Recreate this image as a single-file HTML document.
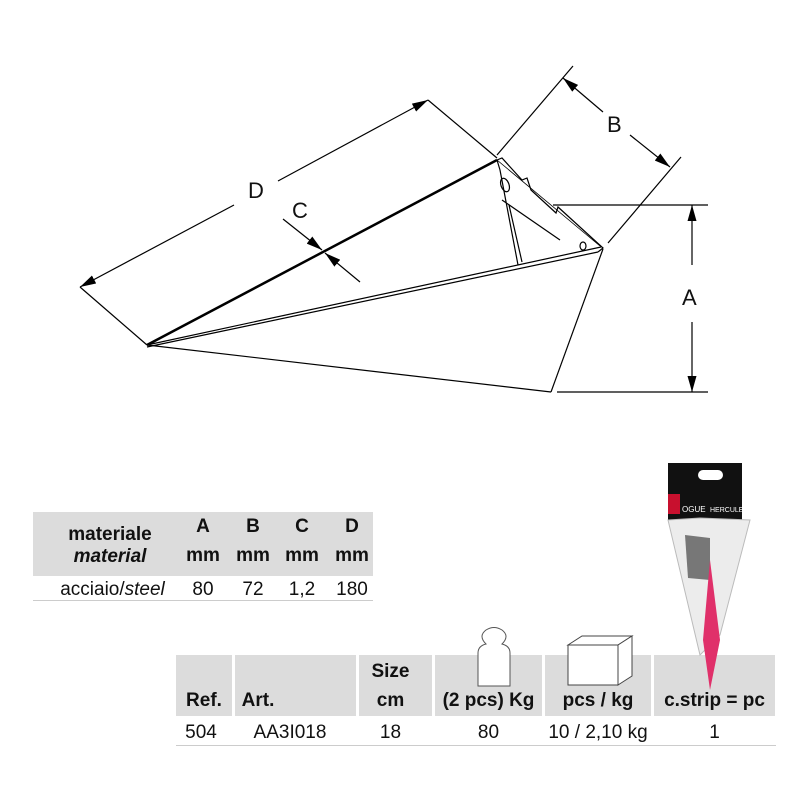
<!DOCTYPE html>
<html><head><meta charset="utf-8"><style>
body{margin:0;width:800px;height:800px;background:#fff;position:relative;overflow:hidden;font-family:"Liberation Sans",Arial,sans-serif;}
.c{position:absolute;}
.g{background:#dcdcdc;}
.t{position:absolute;font-size:18px;color:#111;text-align:center;}
.b{font-weight:bold;}
</style></head><body>
<svg class="c" style="left:0;top:0" width="800" height="450">
<defs><marker id="ar" markerWidth="16" markerHeight="9" refX="16" refY="4.5" orient="auto" markerUnits="userSpaceOnUse"><path d="M0,0 L16,4.5 L0,9 z" fill="#000"/></marker></defs>
<g stroke="#000" fill="none" stroke-width="1.2">
<line x1="234" y1="205" x2="80" y2="287" marker-end="url(#ar)"/>
<line x1="278" y1="181" x2="428" y2="100" marker-end="url(#ar)"/>
<line x1="80" y1="287" x2="147" y2="345"/>
<line x1="428" y1="100" x2="497" y2="158"/>
<line x1="283" y1="219" x2="322" y2="250" marker-end="url(#ar)"/>
<line x1="360" y1="282" x2="325" y2="253" marker-end="url(#ar)"/>
<line x1="603" y1="112" x2="563" y2="78" marker-end="url(#ar)"/>
<line x1="630" y1="135" x2="670" y2="167" marker-end="url(#ar)"/>
<line x1="573" y1="66" x2="497" y2="155"/>
<line x1="681" y1="157" x2="608" y2="243"/>
<line x1="553" y1="205" x2="708" y2="205"/>
<line x1="557" y1="392" x2="708" y2="392"/>
<line x1="692" y1="265" x2="692" y2="205" marker-end="url(#ar)"/>
<line x1="692" y1="322" x2="692" y2="392" marker-end="url(#ar)"/>
<line x1="147" y1="345" x2="497" y2="160" stroke-width="2.5"/>
<line x1="147" y1="345" x2="601" y2="247"/>
<line x1="147" y1="347" x2="598" y2="252"/>
<line x1="147" y1="345" x2="551" y2="392"/>
<line x1="551" y1="392" x2="603" y2="249"/>
<path d="M497,160 L502,158 L522,180 L527,178 L531,190 L556,213 L558,207 L592,238 L603,248 L598,252"/>
<path d="M497,160 L500,170 L518,265 M509,205 L522,262 M502,200 L560,240"/>
<path d="M497,160 L600,246" stroke-width="0.8"/>
<ellipse cx="505" cy="185" rx="4" ry="7" transform="rotate(-20 505 185)"/>
<ellipse cx="583" cy="246" rx="3" ry="4"/>
</g>
<g font-size="22" fill="#111" font-family="Liberation Sans,sans-serif">
<text x="248" y="198">D</text><text x="292" y="218">C</text><text x="607" y="132">B</text><text x="682" y="305">A</text>
</g>
</svg>
<div class="c g" style="left:33px;top:512px;width:340px;height:64px"></div>
<div class="c" style="left:33px;top:600px;width:340px;height:1px;background:#ccc"></div>
<div class="t b" style="left:45px;top:524px;width:130px;line-height:22px;font-size:19px">materiale<br><i>material</i></div>
<div class="t b" style="left:183px;top:516px;width:40px;font-size:19px">A<br><span style="line-height:36px">mm</span></div>
<div class="t b" style="left:233px;top:516px;width:40px;font-size:19px">B<br><span style="line-height:36px">mm</span></div>
<div class="t b" style="left:282px;top:516px;width:40px;font-size:19px">C<br><span style="line-height:36px">mm</span></div>
<div class="t b" style="left:331px;top:516px;width:42px;font-size:19px">D<br><span style="line-height:36px">mm</span></div>
<div class="t" style="left:45px;top:579px;width:135px;font-size:19px">acciaio/<i>steel</i></div>
<div class="t" style="left:183px;top:579px;width:40px;font-size:19px">80</div>
<div class="t" style="left:233px;top:579px;width:40px;font-size:19px">72</div>
<div class="t" style="left:282px;top:579px;width:40px;font-size:19px">1,2</div>
<div class="t" style="left:331px;top:579px;width:42px;font-size:19px">180</div>
<div class="c g" style="left:176px;top:655px;width:56px;height:61px"></div>
<div class="c g" style="left:235px;top:655px;width:121px;height:61px"></div>
<div class="c g" style="left:359px;top:655px;width:73px;height:61px"></div>
<div class="c g" style="left:435px;top:655px;width:107px;height:61px"></div>
<div class="c g" style="left:545px;top:655px;width:106px;height:61px"></div>
<div class="c g" style="left:654px;top:655px;width:121px;height:61px"></div>
<div class="c" style="left:176px;top:745px;width:600px;height:1px;background:#ccc"></div>
<svg class="c" style="left:0;top:450px" width="800" height="350">
<path d="M478,236 L478,203 Q478,196 486,194 Q478,186 486,180 Q494,175 502,180 Q510,186 502,194 Q510,196 510,203 L510,236 Z" fill="#fff" stroke="#555" stroke-width="1"/>
<g stroke="#444" fill="#fff" stroke-width="1"><path d="M568,195 L582,186 L632,186 L618,195 Z"/><path d="M568,195 L618,195 L618,235 L568,235 Z"/><path d="M618,195 L632,186 L632,226 L618,235 Z"/></g>
<g transform="translate(660,10)">
<rect x="8" y="3" width="74" height="57" fill="#111"/>
<rect x="38" y="10" width="25" height="10" rx="5" fill="#fff"/>
<rect x="8" y="34" width="12" height="20" fill="#c8102e"/>
<text x="22" y="52" fill="#fff" font-size="8" font-family="Liberation Sans">OGUE</text>
<text x="50" y="52" fill="#fff" font-size="7" font-family="Liberation Sans">HERCULES</text>
<path d="M8,60 L40,58 L90,60 L60,175 L40,195 Z" fill="#ececec" stroke="#bbb"/>
<path d="M25,75 L50,78 L50,120 L28,118 Z" fill="#777"/>
<path d="M50,100 L60,180 L50,230 L43,180 Z" fill="#e0306a"/>
</g>
</svg>
<div class="t b" style="left:176px;top:690px;width:56px;font-size:19px">Ref.</div>
<div class="t b" style="left:236px;top:690px;width:44px;font-size:19px">Art.</div>
<div class="t b" style="left:359px;top:661px;width:63px;font-size:19px">Size</div>
<div class="t b" style="left:359px;top:690px;width:63px;font-size:19px">cm</div>
<div class="t b" style="left:435px;top:690px;width:107px;font-size:19px">(2 pcs) Kg</div>
<div class="t b" style="left:545px;top:690px;width:106px;font-size:19px">pcs / kg</div>
<div class="t b" style="left:654px;top:690px;width:121px;font-size:19px">c.strip = pc</div>
<div class="t" style="left:176px;top:722px;width:50px;font-size:19px">504</div>
<div class="t" style="left:235px;top:722px;width:110px;font-size:19px">AA3I018</div>
<div class="t" style="left:359px;top:722px;width:63px;font-size:19px">18</div>
<div class="t" style="left:435px;top:722px;width:107px;font-size:19px">80</div>
<div class="t" style="left:545px;top:722px;width:106px;font-size:19px">10 / 2,10 kg</div>
<div class="t" style="left:654px;top:722px;width:121px;font-size:19px">1</div>
</body></html>
